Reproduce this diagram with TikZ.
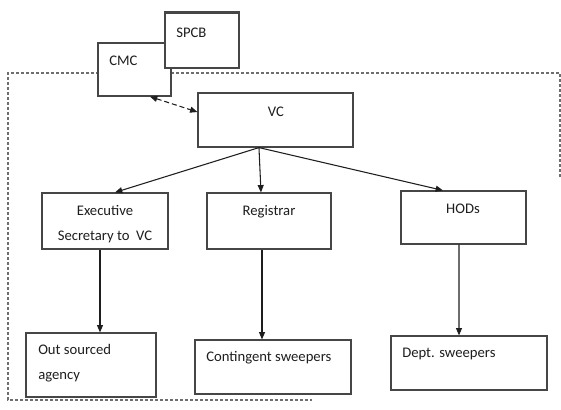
\documentclass[tikz,border=0pt]{standalone}
\usepackage{fontspec}
\setmainfont{Carlito}
\usetikzlibrary{arrows.meta}

\definecolor{boxgray}{RGB}{70,70,70}
\definecolor{linegray}{RGB}{30,30,30}
\definecolor{dashgray}{RGB}{110,110,110}

\tikzset{
  orgbox/.style={draw=boxgray, fill=white, line width=0.9pt, inner sep=0pt},
  orgtext/.style={inner sep=0.75pt, text=linegray, font=\fontsize{11}{18.75}\selectfont},
  orgarrow/.style={draw=linegray, line width=0.8pt, -{Triangle[length=5.5pt,width=4.5pt]}},
}

\begin{document}
\begin{tikzpicture}[x=0.75pt,y=0.75pt,yscale=-1,xscale=1]
\useasboundingbox (0,0) rectangle (561,410);

%Straight Lines [dashed frame]
\draw [dashgray, line width=0.8pt, dash pattern={on 2.25pt off 1.5pt}] (560,177) -- (560,73) -- (8,73) -- (8,400) -- (312,400) ;

%Shape: Rectangle [CMC]
\node [orgbox, minimum width=54.75pt, minimum height=39.75pt] (cmc) at (134.5,69.5) {};
%Shape: Rectangle [SPCB]
\node [orgbox, minimum width=55.5pt, minimum height=41.25pt] (spcb) at (202,40.5) {};
\draw [boxgray, line width=1.6pt] (spcb.north west) -- (spcb.north east) ;
%Shape: Rectangle [VC]
\node [orgbox, minimum width=116.25pt, minimum height=40.5pt] (vc) at (275.5,120) {};
%Shape: Rectangle
\node [orgbox, minimum width=94.5pt, minimum height=42pt] (exec) at (105,221) {};
%Shape: Rectangle
\node [orgbox, minimum width=93pt, minimum height=42pt] (reg) at (269,221) {};
%Shape: Rectangle
\node [orgbox, minimum width=93.75pt, minimum height=39.75pt] (hods) at (463.5,217.5) {};
%Shape: Rectangle
\node [orgbox, minimum width=97.5pt, minimum height=48pt] (out) at (91,365) {};
%Shape: Rectangle
\node [orgbox, minimum width=117pt, minimum height=40.5pt] (cont) at (273,367) {};
%Shape: Rectangle
\node [orgbox, minimum width=117pt, minimum height=40.5pt] (dept) at (469,363) {};

%Straight Lines [CMC <-> VC]
\draw [draw=linegray, line width=0.8pt, dash pattern={on 3.75pt off 2.25pt}, {Triangle[length=5.5pt,width=4.5pt]}-{Triangle[length=5.5pt,width=4.5pt]}] ([xshift=11.6pt]cmc.south) -- ([yshift=-6pt]vc.west) ;

%Straight Lines [from VC]
\coordinate (vcfoot) at ([xshift=-12.4pt]vc.south) ;
\draw [orgarrow] (vcfoot) -- ([xshift=7.5pt]exec.north) ;
\draw [orgarrow] (vcfoot) -- ([xshift=-6pt]reg.north) ;
\draw [orgarrow] (vcfoot) -- ([xshift=-15.4pt]hods.north) ;
%Straight Lines [second level]
\draw [orgarrow] ([xshift=-3.75pt]exec.south) -- ([xshift=6.75pt]out.north) ;
\draw [orgarrow] ([xshift=-5.25pt]reg.south) -- ([xshift=-8.25pt]cont.north) ;
\draw [orgarrow] ([xshift=-3.4pt]hods.south) -- ([xshift=-7.5pt]dept.north) ;

% Text Node
\node [orgtext, anchor=west] (spcbtext) at (175,33) {SPCB};
% Text Node
\node [orgtext, anchor=west] (cmctext) at (108,61) {CMC};
% Text Node
\node [orgtext] (vctext) at (276,112) {VC};
% Text Node
\node [orgtext, align=center] (exectext) at (105,224.5) {Executive\\Secretary to~ VC};
% Text Node
\node [orgtext] (regtext) at (269,212) {Registrar};
% Text Node
\node [orgtext] (hodstext) at (463,209) {HODs};
% Text Node
\node [orgtext, anchor=west, align=left] (outtext) at (37,363) {Out sourced\\agency};
% Text Node
\node [orgtext, anchor=west] (conttext) at (205,358) {Contingent sweepers};
% Text Node
\node [orgtext, anchor=west] (depttext) at (401,354) {Dept. sweepers};

\end{tikzpicture}
\end{document}
